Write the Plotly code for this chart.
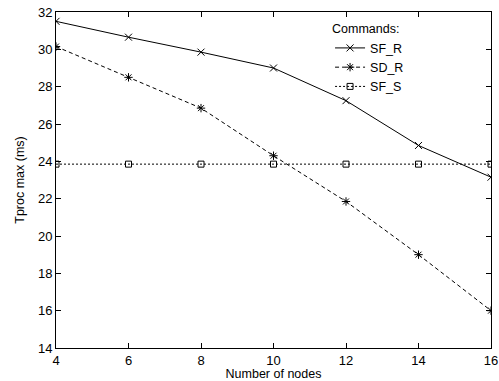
import plotly.graph_objects as go

nodes = [4, 6, 8, 10, 12, 14, 16]
sf_r = [31.5, 30.65, 29.85, 29.0, 27.25, 24.85, 23.15]
sd_r = [30.15, 28.5, 26.85, 24.3, 21.85, 19.0, 16.0]
sf_s = [23.85, 23.85, 23.85, 23.85, 23.85, 23.85, 23.85]

FONT = "Liberation Sans, Arial, sans-serif"

fig = go.Figure()
fig.add_trace(go.Scatter(x=nodes, y=sf_r, name="SF_R", mode="lines+markers",
                         line=dict(color="black", width=1, dash="solid"),
                         marker=dict(symbol="x-thin-open", size=7, color="black",
                                     line=dict(color="black", width=1))))
fig.add_trace(go.Scatter(x=nodes, y=sd_r, name="SD_R", mode="lines+markers",
                         line=dict(color="black", width=1, dash="4px,3px"),
                         marker=dict(symbol="asterisk-open", size=7, color="black",
                                     line=dict(color="black", width=1))))
fig.add_trace(go.Scatter(x=nodes, y=sf_s, name="SF_S", mode="lines+markers",
                         line=dict(color="black", width=1, dash="2px,2px"),
                         marker=dict(symbol="square-open", size=6, color="black",
                                     line=dict(color="black", width=1))))

axis_common = dict(showline=True, linecolor="black", linewidth=1, mirror="ticks",
                   ticks="inside", ticklen=5, tickcolor="black", tickwidth=1,
                   showgrid=False, zeroline=False, automargin=False,
                   tickfont=dict(family=FONT, size=13, color="black"))

fig.update_layout(
    width=499, height=381,
    margin=dict(l=56, r=8, t=12, b=33),
    paper_bgcolor="white", plot_bgcolor="white",
    font=dict(family=FONT, size=13, color="black"),
    xaxis=dict(range=[4, 16], dtick=2, tick0=4,
               title=dict(text="Number of nodes", standoff=0,
                          font=dict(family=FONT, size=12.5)), **axis_common),
    yaxis=dict(range=[14, 32], dtick=2, tick0=14,
               title=dict(text="Tproc max (ms)", standoff=10,
                          font=dict(family=FONT, size=12.5)), **axis_common),
    legend=dict(x=0.63, y=0.985, xanchor="left", yanchor="top",
                bgcolor="rgba(0,0,0,0)", tracegroupgap=0,
                title=dict(text="Commands:", font=dict(family=FONT, size=12.5)),
                font=dict(family=FONT, size=12.5), itemwidth=30),
    showlegend=True,
)

fig.write_html("out.html", config={"displayModeBar": False},
               post_script="document.body.style.margin='0';document.body.style.overflow='hidden';")
